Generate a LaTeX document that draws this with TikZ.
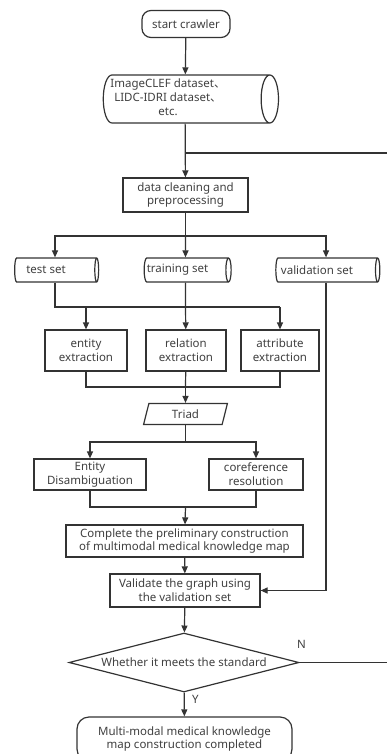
\documentclass[tikz,border=0pt]{standalone}
\usepackage{fontspec}
\setmainfont{Noto Sans}
\newfontfamily\cjk{Noto Sans CJK SC}
\usepackage{tikz}
\usetikzlibrary{arrows.meta,positioning,shapes.geometric}

\begin{document}
\begin{tikzpicture}[
  x=1pt,y=-1pt,
  every node/.style={font=\fontsize{11.5}{13.8}\selectfont,text=black!75,line width=1.2pt,draw=black!80},
  box/.style={draw,rectangle,align=center,inner sep=1pt},
  term/.style={draw,rectangle,rounded corners=9pt,align=center,inner sep=1pt},
  store/.style={draw,cylinder,aspect=0.4,inner sep=1pt,minimum width=24pt},
  io/.style={draw,trapezium,trapezium left angle=79,trapezium right angle=101,trapezium stretches=true,inner sep=1pt},
  decision/.style={draw,diamond,aspect=3.9,inner sep=0pt,align=center},
  arr/.style={-{Triangle[length=7pt,width=6pt]},line width=1.2pt,draw=black!80},
  wire/.style={line width=1.2pt,draw=black!80}
]
\path[use as bounding box,clip] (0,0) rectangle (387,754);

\node[term,minimum width=88pt,minimum height=27pt] (start) at (186,24) {start crawler};
\node[store,minimum height=162pt,minimum width=48pt] (data) at (185,99)
  {\begin{tabular}{@{}c@{}}ImageCLEF dataset{\cjk 、}\\LIDC-IDRI dataset{\cjk 、}\\etc.\end{tabular}\hspace*{34pt}};
\node[box,minimum width=125pt,minimum height=34pt] (clean) at (185.5,195) {data cleaning and\\preprocessing};

\node[store,minimum height=84pt] (test) at (55,270) {test set\hspace*{18pt}};
\node[store,minimum height=87pt] (train) at (185.5,270) {training set\hspace*{16pt}};
\node[store,minimum height=104pt] (valid) at (326,270) {validation set\hspace*{18pt}};

\node[box,minimum width=82pt,minimum height=41pt] (ent) at (86,350.5) {entity\\extraction};
\node[box,minimum width=80pt,minimum height=41pt] (rel) at (186,350.5) {relation\\extraction};
\node[box,minimum width=78pt,minimum height=41pt] (attr) at (280,350.5) {attribute\\extraction};

\node[io,minimum width=84pt,minimum height=21pt] (triad) at (185.5,414) {Triad};

\node[box,minimum width=112pt,minimum height=31pt] (entd) at (90,474.5) {Entity\\Disambiguation};
\node[box,minimum width=94pt,minimum height=31pt] (coref) at (256,474.5) {coreference\\resolution};

\node[box,minimum width=237pt,minimum height=32pt] (prelim) at (184.5,541) {Complete the preliminary construction\\of multimodal medical knowledge map};
\node[box,minimum width=150pt,minimum height=33pt] (check) at (185,590.5) {Validate the graph using\\the validation set};
\node[decision,minimum width=230pt,minimum height=59pt] (meets) at (184,662.5) {Whether it meets the standard};
\node[term,rounded corners=12pt,minimum width=215pt,minimum height=44pt] (done) at (184.5,739) {Multi-modal medical knowledge\\map construction completed};

% junction points
\coordinate (loopin) at (392,153);
\coordinate (loopout) at (392,662.5);
\coordinate (split1) at (185.5,236);
\coordinate (bus1) at (185.5,307);
\coordinate (bus2) at (185.5,387);
\coordinate (split2) at (185.5,442);
\coordinate (bus3) at (185.5,507);

\draw[arr] (start) -- (data);
\draw[arr] (data) -- (clean);
\draw[wire] (data.south |- loopin) -- (loopin);

\draw[wire] (clean) -- (split1);
\draw[arr] (split1) -| (test);
\draw[arr] (split1) -- (train);
\draw[arr] (split1) -| (valid);

\draw[wire] (test.south) |- (attr.north |- bus1);
\draw[wire] (train) -- (bus1);
\draw[arr] (ent.north |- bus1) -- (ent);
\draw[arr] (bus1) -- (rel);
\draw[arr] (attr.north |- bus1) -- (attr);

\draw[wire] (ent) |- (bus2) -| (attr);
\draw[wire] (rel) -- (bus2);
\draw[arr] (bus2) -- (triad);

\draw[wire] (triad) -- (split2);
\draw[arr] (split2) -| (entd);
\draw[arr] (split2) -| (coref);

\draw[wire] (entd) |- (bus3) -| (coref);
\draw[arr] (bus3) -- (prelim);
\draw[arr] (prelim) -- (check);
\draw[arr] (valid) |- (check);
\draw[arr] (check) -- (meets);

\draw[wire] (meets.east) -- node[pos=0.02,above=10pt,draw=none] {N} (loopout);
\draw[arr] (meets) -- node[pos=0.3,right=4pt,draw=none] {Y} (done);

\end{tikzpicture}
\end{document}
